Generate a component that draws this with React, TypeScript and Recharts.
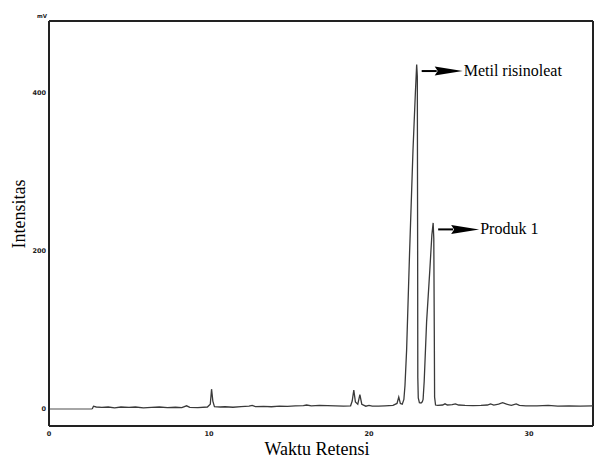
import React from 'react';
import { LineChart, Line, XAxis, YAxis, ReferenceDot, ReferenceLine, Label } from 'recharts';

const retentionTime = [
  2.7, 2.78, 2.95, 3.3, 3.7, 4.1, 4.5, 5.0, 5.4, 5.9, 6.4, 6.9, 7.4, 7.9, 8.3, 8.6, 8.8, 9.3, 9.9, 10.08,
  10.16, 10.24, 10.34, 10.7, 11.0, 11.5, 12.0, 12.5, 12.7, 12.9, 13.4, 13.9, 14.4, 14.9, 15.4, 15.9, 16.1,
  16.4, 16.9, 17.4, 17.9, 18.4, 18.85, 18.95, 19.05, 19.15, 19.3, 19.43, 19.55, 19.8, 20.0, 20.2, 20.6,
  21.0, 21.5, 21.75, 21.86, 21.96, 22.08, 22.18, 22.25, 22.35, 22.54, 22.75, 22.9, 22.98, 23.02, 23.04, 23.05,
  23.08, 23.15, 23.25, 23.33, 23.38, 23.45, 23.6, 23.8, 23.93, 24.01, 24.05, 24.08, 24.1, 24.16, 24.3, 24.6,
  24.75, 24.9, 25.2, 25.4, 25.6, 26.0, 26.5, 27.0, 27.4, 27.6, 27.8, 28.1, 28.35, 28.6, 28.9, 29.2, 29.4,
  29.8, 30.5, 31.2, 31.8, 32.5, 33.2, 34.0,
];
const intensity = [
  0, 3.5, 2.5, 2, 2.5, 1.5, 2.5, 2, 2.5, 1.5, 2, 2.5, 1.8, 2.2, 1.8, 4, 2, 1.8, 2.5, 6,
  25, 10, 3, 2.5, 2.8, 2.2, 3, 3.5, 4.5, 3, 3.2, 2.8, 3.5, 3.2, 3.8, 4.2, 5,
  4, 4.5, 4.2, 3.8, 3.5, 4, 10, 24, 9, 6, 18, 6, 3.5, 4.5, 3.5, 3.5,
  4, 4.5, 7, 15, 7, 6, 12, 30, 74, 200, 327, 400, 435, 420, 200, 40,
  14, 8, 7.5, 9, 12, 35, 110, 175, 220, 235, 215, 100, 15, 5, 4.5, 5,
  6.5, 5, 5.5, 6.5, 5, 4.5, 4.2, 4.5, 5, 6.5, 5, 6, 8, 6, 4.5, 6.5, 4.5,
  4, 4, 4.5, 3.5, 4, 3.5, 4,
];
const leadTime = [0, 2.7];
const leadIntensity = [0, 0];

const xTicks = [0, 10, 20, 30];
const yTicks = [0, 200, 400];
const xDomain = [0, 34];
const yDomain = [-21.5, 490];

const annotationTime = [22.98, 24.01];
const annotationValue = [435, 235];
const annotationLabel = ['Metil risinoleat', 'Produk 1'];

const traceData = retentionTime.map((t, i) => ({ t, v: intensity[i] }));
const leadData = leadTime.map((t, i) => ({ t, v: leadIntensity[i] }));

const serif = '"Liberation Serif", "Times New Roman", serif';
const tickStyle = { fontSize: 6.5, fontWeight: 700, fill: '#222', fontFamily: '"DejaVu Sans", sans-serif' };
const frame = { stroke: '#222', strokeWidth: 2 };

const ArrowLabel = (text: string) => (props: any) => {
  const vb = props.viewBox || {};
  const x = vb.x + (vb.width || 0) / 2;
  const y = vb.y + (vb.height || 0) / 2 + 6.5;
  return (
    <g>
      <line x1={x + 5} y1={y} x2={x + 20} y2={y} stroke="#000" strokeWidth={2} />
      <path d={`M ${x + 18} ${y - 4.5} L ${x + 46} ${y} L ${x + 18} ${y + 4.5} L ${x + 21} ${y} Z`} fill="#000" />
      <text x={x + 47} y={y + 5} fontFamily={serif} fontSize={16} fill="#000">
        {text}
      </text>
    </g>
  );
};

export default function App() {
  return (
    <div style={{ position: 'absolute', left: 0, top: 0, width: 595, height: 458, background: '#fff' }}>
      <LineChart width={595} height={458} margin={{ top: 21, right: 2, bottom: 0, left: 0 }}>
        <XAxis
          xAxisId="x"
          type="number"
          dataKey="t"
          domain={xDomain}
          ticks={xTicks}
          allowDataOverflow
          height={32}
          tickLine={false}
          tickSize={3}
          tickMargin={2}
          tick={tickStyle}
          axisLine={frame}
        >
          <Label
            content={(p: any) => (
              <text
                x={p.viewBox.x + p.viewBox.width / 2 - 4}
                y={p.viewBox.y + 29}
                textAnchor="middle"
                fontFamily={serif}
                fontSize={18}
                fill="#000"
              >
                Waktu Retensi
              </text>
            )}
          />
        </XAxis>
        <YAxis
          yAxisId="y"
          type="number"
          domain={yDomain}
          ticks={yTicks}
          allowDataOverflow
          width={49}
          tickLine={false}
          tickSize={3}
          tickMargin={0}
          tick={tickStyle}
          axisLine={frame}
        >
          <Label
            content={(p: any) => {
              const cx = p.viewBox.x + 25;
              const cy = p.viewBox.y + 193;
              return (
                <text
                  x={cx}
                  y={cy}
                  transform={`rotate(-90, ${cx}, ${cy})`}
                  textAnchor="middle"
                  fontFamily={serif}
                  fontSize={18}
                  fill="#000"
                >
                  Intensitas
                </text>
              );
            }}
          />
          <Label
            content={(p: any) => (
              <text
                x={p.viewBox.x + p.viewBox.width - 2}
                y={p.viewBox.y - 3}
                textAnchor="end"
                fontFamily='"DejaVu Sans", sans-serif'
                fontSize={5.5}
                fontWeight={700}
                fill="#222"
              >
                mV
              </text>
            )}
          />
        </YAxis>
        <ReferenceLine xAxisId="x" yAxisId="y" y={yDomain[1]} stroke="#222" strokeWidth={2} ifOverflow="visible" />
        <ReferenceLine xAxisId="x" yAxisId="y" x={xDomain[1]} stroke="#222" strokeWidth={2} ifOverflow="visible" />
        <Line
          xAxisId="x"
          yAxisId="y"
          data={leadData}
          dataKey="v"
          type="linear"
          stroke="#888"
          strokeWidth={1.3}
          dot={false}
          isAnimationActive={false}
        />
        <Line
          xAxisId="x"
          yAxisId="y"
          data={traceData}
          dataKey="v"
          type="linear"
          stroke="#3a3a3a"
          strokeWidth={1.3}
          dot={false}
          isAnimationActive={false}
        />
        {annotationTime.map((t, i) => (
          <ReferenceDot
            key={annotationLabel[i]}
            xAxisId="x"
            yAxisId="y"
            x={t}
            y={annotationValue[i]}
            r={1}
            fill="none"
            stroke="none"
            label={ArrowLabel(annotationLabel[i])}
          />
        ))}
      </LineChart>
    </div>
  );
}
